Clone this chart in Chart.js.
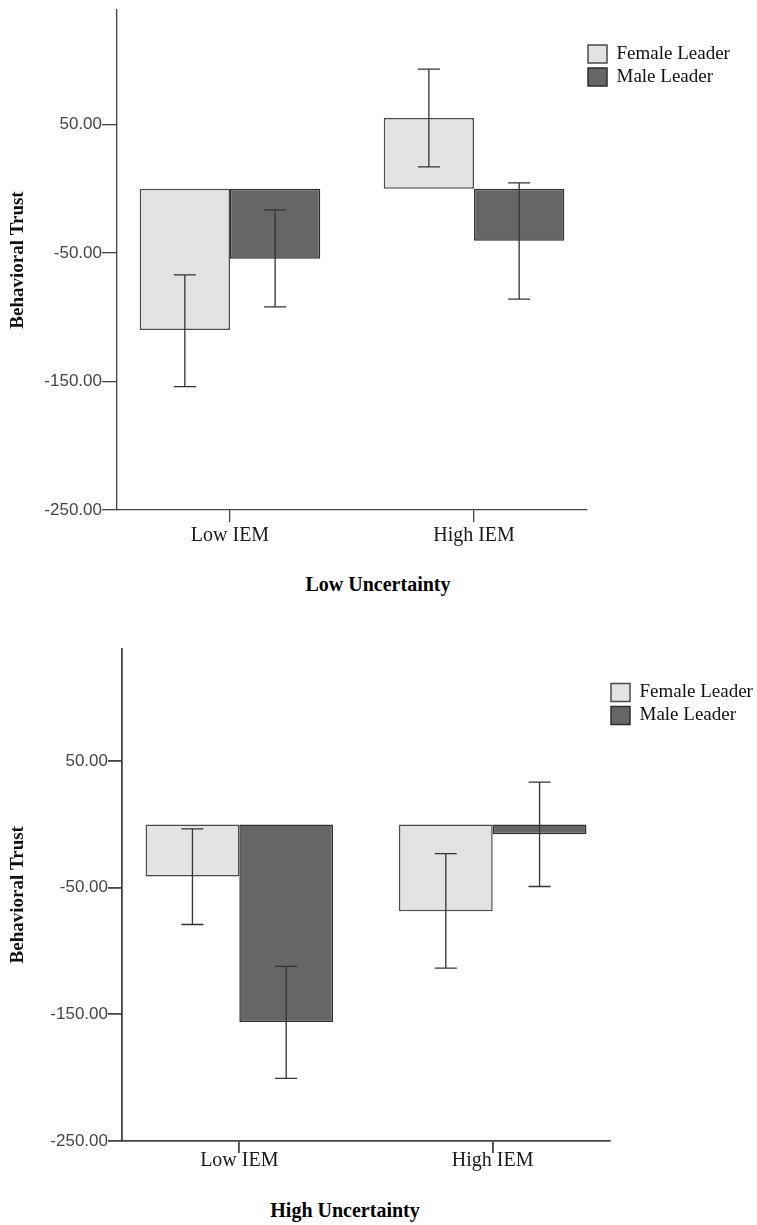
<!DOCTYPE html>
<html><head><meta charset="utf-8">
<script src="https://cdn.jsdelivr.net/npm/chart.js@4.4.0/dist/chart.umd.min.js"></script>
<style>
html,body{margin:0;padding:0;background:#fff;}
#wrap{position:relative;width:757px;height:1225px;overflow:hidden;background:#fff;}
.cv{position:absolute;left:0;}
.cap{position:absolute;font-family:"Liberation Serif","Times New Roman",serif;font-weight:bold;font-size:20px;line-height:20px;color:#000;text-align:center;width:400px;white-space:nowrap;}
</style></head><body>
<div id="wrap">
  <div class="cv" style="top:0px;width:757px;height:560px"><canvas id="c1" width="757" height="560"></canvas></div>
  <div class="cap" style="left:178px;top:574px">Low Uncertainty</div>
  <div class="cv" style="top:630px;width:757px;height:561px"><canvas id="c2" width="757" height="561"></canvas></div>
  <div class="cap" style="left:145px;top:1200px">High Uncertainty</div>
</div>
<script>
// ---------- data ----------
const categories = ['Low IEM', 'High IEM'];
const seriesNames = ['Female Leader', 'Male Leader'];
const yTicks = [-250, -150, -50, 50];
const yTitle = 'Behavioral Trust';

// Low Uncertainty panel
const lowUncFemale      = [-110, 55];
const lowUncFemaleUpper = [-67, 93];
const lowUncFemaleLower = [-154, 17];
const lowUncMale        = [-54.5, -40.5];
const lowUncMaleUpper   = [-16.5, 4.5];
const lowUncMaleLower   = [-92, -86];

// High Uncertainty panel
const highUncFemale      = [-41, -68.5];
const highUncFemaleUpper = [-3.5, -23];
const highUncFemaleLower = [-79, -113.5];
const highUncMale        = [-156, -7.7];
const highUncMaleUpper   = [-112, 33.5];
const highUncMaleLower   = [-200.5, -49];

// ---------- plugins ----------
const errorBarPlugin = {
  id: 'errorBars',
  afterDatasetsDraw(chart) {
    const ctx = chart.ctx;
    const ys = chart.scales.y;
    chart.data.datasets.forEach((ds, i) => {
      const meta = chart.getDatasetMeta(i);
      meta.data.forEach((bar, j) => {
        const x = bar.x;
        const yU = ys.getPixelForValue(ds.errUpper[j]);
        const yL = ys.getPixelForValue(ds.errLower[j]);
        ctx.save();
        ctx.strokeStyle = '#333';
        ctx.lineWidth = 1.3;
        ctx.beginPath();
        ctx.moveTo(x, yU); ctx.lineTo(x, yL);
        ctx.moveTo(x - 11, yU); ctx.lineTo(x + 11, yU);
        ctx.moveTo(x - 11, yL); ctx.lineTo(x + 11, yL);
        ctx.stroke();
        ctx.restore();
      });
    });
  }
};

const legendShiftPlugin = {
  id: 'legendShift',
  afterLayout(chart) {
    const lg = chart.legend;
    if (!lg) return;
    lg.left = chart.chartArea.right - 3;
    lg.right = chart.width;
    lg.width = lg.right - lg.left;
  }
};

function makeChart(id, female, fU, fL, male, mU, mL, g) {
  const toPts = arr => arr.map((v, i) => ({x: i, y: v}));
  return new Chart(document.getElementById(id), {
    type: 'bar',
    data: {
      datasets: [
        {label: seriesNames[0], data: toPts(female), errUpper: fU, errLower: fL,
         backgroundColor: '#e3e3e3', borderColor: '#4a4a4a', borderWidth: 1.5, borderSkipped: false},
        {label: seriesNames[1], data: toPts(male), errUpper: mU, errLower: mL,
         backgroundColor: '#666666', borderColor: '#2e2e2e', borderWidth: 1.5, borderSkipped: false}
      ]
    },
    options: {
      responsive: false,
      animation: false,
      events: [],
      devicePixelRatio: 1,
      categoryPercentage: 0.74,
      barPercentage: 1.0,
      layout: {padding: {top: g.padTop, left: 0, right: g.padRight, bottom: 0}},
      plugins: {
        tooltip: {enabled: false},
        title: {display: false},
        legend: {
          display: true,
          position: 'right',
          align: 'start',
          maxWidth: 100,
          title: {display: true, text: '', font: {size: 1, lineHeight: 1}, padding: {top: 29.5, bottom: 0}},
          labels: {
            boxWidth: 19, boxHeight: 18, padding: 4, color: '#111',
            font: {family: '"Liberation Serif", "Times New Roman", serif', size: 19}
          }
        }
      },
      scales: {
        x: {
          type: 'linear',
          min: -0.463, max: 1.463,
          offset: false,
          afterBuildTicks: s => { s.ticks = categories.map((c, i) => ({value: i})); },
          afterFit: s => { s.height = g.xHeight; s.paddingLeft = 0; s.paddingRight = 0; },
          ticks: {
            callback: v => categories[Math.round(v)],
            autoSkip: false, maxRotation: 0, minRotation: 0,
            padding: g.xTickPad, color: '#1a1a1a',
            font: {family: '"Liberation Serif", "Times New Roman", serif', size: 20}
          },
          grid: {offset: false, drawOnChartArea: false, drawTicks: true, tickLength: 12, color: '#444', lineWidth: g.axisW},
          border: {display: true, color: '#444', width: g.axisW}
        },
        y: {
          type: 'linear',
          min: -250, max: 139,
          afterBuildTicks: s => { s.ticks = yTicks.map(v => ({value: v})); },
          afterFit: s => { s.width = g.yWidth; s.paddingTop = 0; s.paddingBottom = 0; },
          ticks: {
            callback: v => Number(v).toFixed(2),
            padding: 0, color: '#444',
            font: {family: '"Liberation Sans", Arial, sans-serif', size: 17}
          },
          grid: {drawOnChartArea: false, drawTicks: true, tickLength: g.yTickLen, color: '#444', lineWidth: g.axisW},
          border: {display: true, color: '#444', width: g.axisW},
          title: {
            display: true, text: yTitle, color: '#111',
            padding: {top: 6.5, bottom: 0},
            font: {family: '"Liberation Serif", "Times New Roman", serif', size: 19, weight: 'bold'}
          }
        }
      }
    },
    plugins: [errorBarPlugin, legendShiftPlugin]
  });
}

makeChart('c1', lowUncFemale, lowUncFemaleUpper, lowUncFemaleLower,
  lowUncMale, lowUncMaleUpper, lowUncMaleLower,
  {padTop: 10, padRight: 70, xHeight: 50, yWidth: 117, yTickLen: 15, xTickPad: 2, axisW: 1.3});

makeChart('c2', highUncFemale, highUncFemaleUpper, highUncFemaleLower,
  highUncMale, highUncMaleUpper, highUncMaleLower,
  {padTop: 18.5, padRight: 47, xHeight: 50, yWidth: 122, yTickLen: 14, xTickPad: -4, axisW: 1.8});
</script>
</body></html>
